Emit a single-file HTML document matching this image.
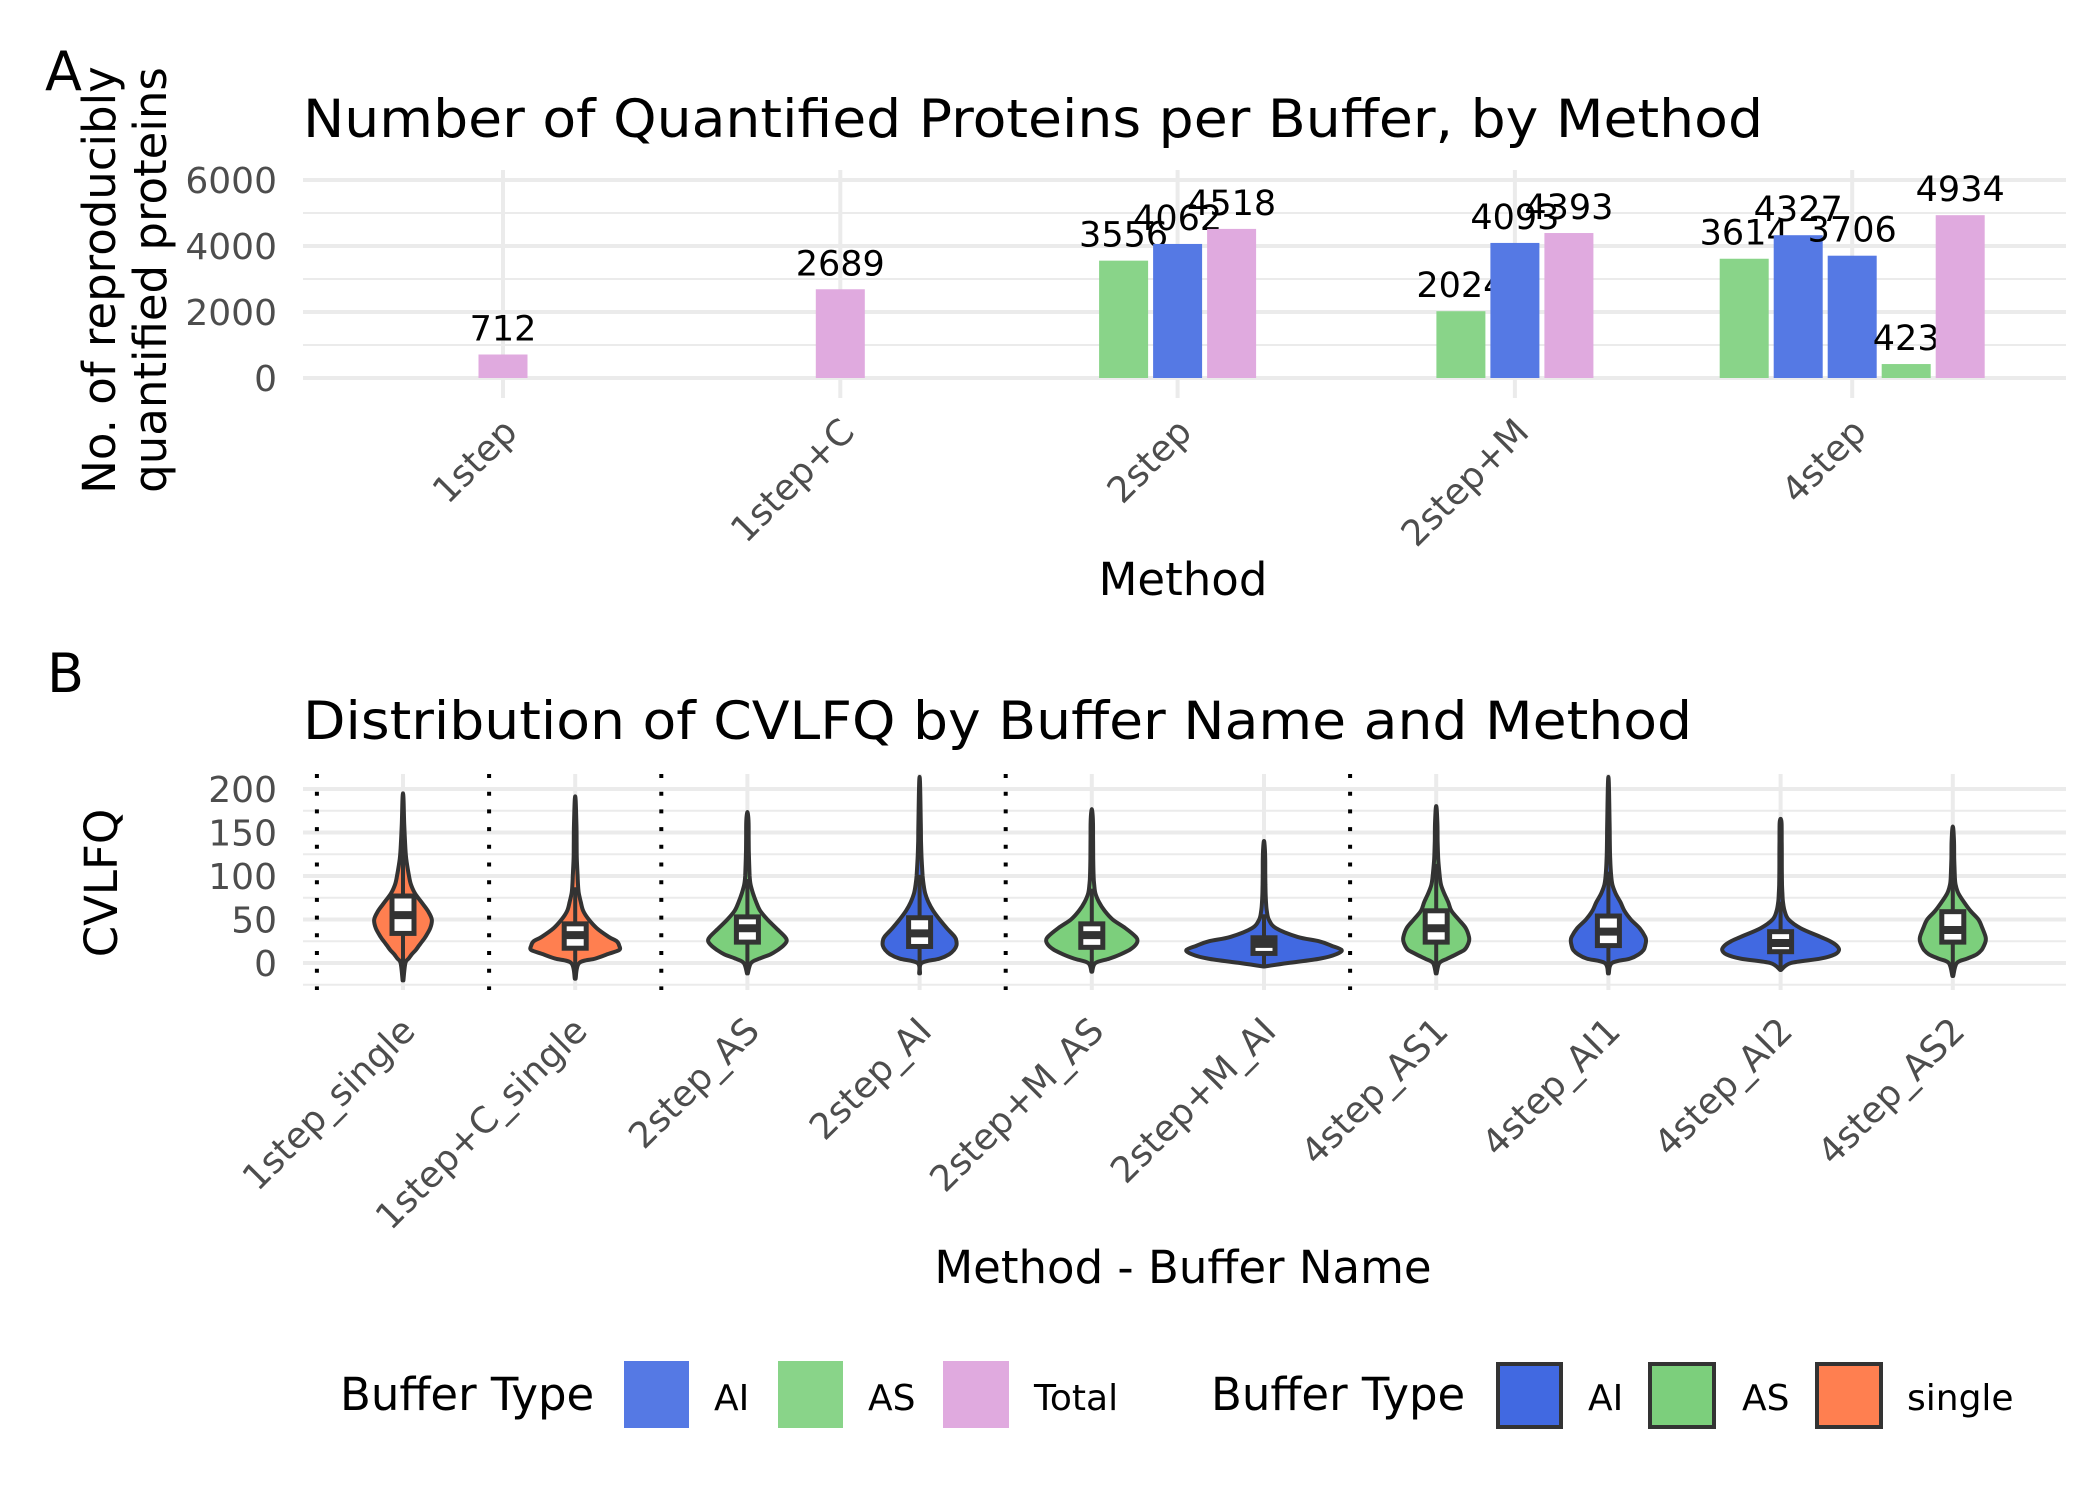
<!DOCTYPE html>
<html><head><meta charset="utf-8"><style>
html,body{margin:0;padding:0;background:#fff;}
svg{display:block;font-family:"DejaVu Sans","Liberation Sans",sans-serif;}
</style></head><body>
<svg id="fig" width="2100" height="1499" viewBox="0 0 2100 1499" xmlns="http://www.w3.org/2000/svg">
<rect width="2100" height="1499" fill="#fff"/>
<text x="45" y="90" font-size="54">A</text>
<text x="303" y="137" font-size="53" textLength="1460" lengthAdjust="spacingAndGlyphs">Number of Quantified Proteins per Buffer, by Method</text>
<g font-size="45" text-anchor="middle">
<text transform="translate(115,280) rotate(-90)">No. of reproducibly</text>
<text transform="translate(166,280) rotate(-90)">quantified proteins</text>
</g>
<g id="gA"></g>
<text x="1183" y="595" font-size="45" text-anchor="middle">Method</text>

<text x="47" y="692" font-size="54">B</text>
<text x="303" y="739" font-size="53" textLength="1389" lengthAdjust="spacingAndGlyphs">Distribution of CVLFQ by Buffer Name and Method</text>
<text transform="translate(117,883) rotate(-90)" font-size="45" text-anchor="middle">CVLFQ</text>
<g id="gB"></g>
<text x="1183" y="1283" font-size="45" text-anchor="middle">Method - Buffer Name</text>

<g font-size="36">
<text x="340" y="1410" font-size="45">Buffer Type</text>
<rect x="624" y="1361" width="65" height="67" fill="#5579e4"/>
<text x="714" y="1410">AI</text>
<rect x="778" y="1361" width="65" height="67" fill="#89d489"/>
<text x="868" y="1410">AS</text>
<rect x="943" y="1361" width="66" height="67" fill="#e0aadf"/>
<text x="1034" y="1410">Total</text>
</g>
<g font-size="36">
<text x="1211" y="1410" font-size="45">Buffer Type</text>
<rect x="1498" y="1364" width="63" height="63" fill="#4169e1" stroke="#333" stroke-width="4"/>
<text x="1588" y="1410">AI</text>
<rect x="1650" y="1364" width="64" height="63" fill="#7ccf7c" stroke="#333" stroke-width="4"/>
<text x="1742" y="1410">AS</text>
<rect x="1817" y="1364" width="64" height="63" fill="#ff7f50" stroke="#333" stroke-width="4"/>
<text x="1907" y="1410">single</text>
</g>
</svg>
<script>
// ---------- Panel A data ----------
const methods = ["1step","1step+C","2step","2step+M","4step"];
const barMethod = ["1step","1step+C","2step","2step","2step","2step+M","2step+M","2step+M","4step","4step","4step","4step","4step"];
const barType   = ["Total","Total","AS","AI","Total","AS","AI","Total","AS","AI","AI","AS","Total"];
const barValue  = [712,2689,3556,4062,4518,2024,4093,4393,3614,4327,3706,423,4934];
const yTicksA = [0,2000,4000,6000];
const yMinorA = [1000,3000,5000];

// ---------- Panel B data ----------
const violinNames = ["1step_single","1step+C_single","2step_AS","2step_AI","2step+M_AS","2step+M_AI","4step_AS1","4step_AI1","4step_AI2","4step_AS2"];
const violinType = ["single","single","AS","AI","AS","AI","AS","AI","AI","AS"];
const separatorsAfter = [-1,0,1,3,5];
const vMin = [-20,-18,-12,-12,-10,-4,-12,-12,-8,-15];
const vMax = [191,188,172,208,175,138,178,208,165,155];
const q1 = [34,17,24,19,18,11,24,20,13,24];
const med = [55,32,40,34,32,22,40,36,23,38];
const q3 = [77,45,53,52,45,29,60,54,36,59];
// density profiles (relative half-width, 0..1) at the given CVLFQ levels
const densLevels = [0,5,10,15,20,25,30,40,50,60,70,80,90,100,120,140,160];
const densities = [
 [0.03,0.07,0.11,0.16,0.2,0.24,0.28,0.34,0.36,0.31,0.23,0.15,0.1,0.075,0.04,0.025,0.015],
 [0.05,0.25,0.4,0.55,0.55,0.52,0.42,0.27,0.17,0.1,0.07,0.045,0.035,0.03,0.02,0.018,0.015],
 [0.045,0.15,0.29,0.38,0.45,0.49,0.47,0.36,0.25,0.16,0.11,0.07,0.04,0.028,0.02,0.016,0.015],
 [0.025,0.25,0.37,0.43,0.46,0.46,0.44,0.34,0.25,0.17,0.11,0.07,0.05,0.038,0.025,0.018,0.015],
 [0.045,0.22,0.36,0.47,0.54,0.57,0.55,0.42,0.26,0.16,0.09,0.045,0.03,0.022,0.018,0.016,0.015],
 [0.3,0.7,0.9,0.97,0.84,0.69,0.42,0.15,0.06,0.035,0.025,0.02,0.018,0.016,0.015,0.012,0.01],
 [0.04,0.14,0.25,0.35,0.39,0.41,0.41,0.37,0.28,0.19,0.15,0.1,0.06,0.044,0.025,0.018,0.015],
 [0.045,0.27,0.38,0.44,0.46,0.47,0.46,0.39,0.28,0.2,0.15,0.09,0.05,0.035,0.022,0.018,0.015],
 [0.13,0.5,0.68,0.73,0.7,0.62,0.5,0.25,0.1,0.05,0.03,0.022,0.018,0.016,0.015,0.014,0.012],
 [0.05,0.18,0.3,0.36,0.39,0.41,0.41,0.37,0.32,0.22,0.14,0.07,0.035,0.025,0.018,0.015,0.012]
];
const yTicksB = [0,50,100,150,200];
const yMinorB = [-25,25,75,125,175];

const NS = "http://www.w3.org/2000/svg";
function mk(tag, attrs, parent){const e=document.createElementNS(NS,tag);for(const k in attrs)e.setAttribute(k,attrs[k]);parent.appendChild(e);return e;}
const barColor = {AI:"#5579e4",AS:"#89d489",Total:"#e0aadf"};
const vColor = {AI:"#4169e1",AS:"#7ccf7c",single:"#ff7f50"};

// ---------- Panel A ----------
(function(){
 const g=document.getElementById("gA");
 const L=303,R=2066,T=170,B=398, step=337.3, slot=54, bw=49;
 const xA=i=>503+i*step;
 const yA=v=>378-v*0.033;
 yMinorA.forEach(v=>{const l=mk("line",{x1:L,x2:R,y1:yA(v),y2:yA(v),stroke:"#ebebeb","stroke-width":2},g);
  
  });
 yTicksA.forEach(v=>{const l=mk("line",{x1:L,x2:R,y1:yA(v),y2:yA(v),stroke:"#ebebeb","stroke-width":4},g);
  
  
  const t=mk("text",{x:277,y:yA(v)+13,"font-size":36,fill:"#4d4d4d","text-anchor":"end"},g);t.textContent=v;
  
  });
 methods.forEach((m,i)=>{const l=mk("line",{x1:xA(i),x2:xA(i),y1:T,y2:B,stroke:"#ebebeb","stroke-width":4},g);
  
  
  const t=mk("text",{transform:`translate(${xA(i)+16},434) rotate(-45)`,"font-size":36,fill:"#4d4d4d","text-anchor":"end"},g);t.textContent=m;
  
  });
 methods.forEach((m,i)=>{
  const idx=[];barMethod.forEach((bm,j)=>{if(bm===m)idx.push(j);});
  idx.forEach((j,k)=>{
   const cx=xA(i)+(k-(idx.length-1)/2)*slot;
   const r=mk("rect",{x:cx-bw/2,y:yA(barValue[j]),width:bw,height:yA(0)-yA(barValue[j]),fill:barColor[barType[j]]},g);
   
   
   const t=mk("text",{x:cx,y:yA(barValue[j])-14,"font-size":35,"text-anchor":"middle",fill:"#000"},g);t.textContent=barValue[j];
   
   
  });
 });
})();

// ---------- Panel B ----------
(function(){
 const g=document.getElementById("gB");
 const L=303,R=2066,T=774,B=990, step=172.2, maxW=80;
 const xB=i=>403+i*step;
 const yB=v=>963-v*0.87;
 yMinorB.forEach(v=>{const l=mk("line",{x1:L,x2:R,y1:yB(v),y2:yB(v),stroke:"#ebebeb","stroke-width":2},g);
  
  });
 yTicksB.forEach(v=>{const l=mk("line",{x1:L,x2:R,y1:yB(v),y2:yB(v),stroke:"#ebebeb","stroke-width":4},g);
  
  
  const t=mk("text",{x:277,y:yB(v)+13,"font-size":36,fill:"#4d4d4d","text-anchor":"end"},g);t.textContent=v;
  
  });
 violinNames.forEach((n,i)=>{const l=mk("line",{x1:xB(i),x2:xB(i),y1:T,y2:B,stroke:"#ebebeb","stroke-width":4},g);
  
  
  const t=mk("text",{transform:`translate(${xB(i)+14},1033) rotate(-45)`,"font-size":36,fill:"#4d4d4d","text-anchor":"end"},g);t.textContent=n;
  
  });
 separatorsAfter.forEach(s=>{const x=xB(s+0.5);
  const l=mk("line",{x1:x,x2:x,y1:T,y2:B,stroke:"#000","stroke-width":4,"stroke-dasharray":"4 13.7"},g);
  
  });
 violinNames.forEach((n,i)=>{
  const cx=xB(i);
  const lv=[vMin[i]].concat(densLevels.filter(v=>v>vMin[i]&&v<vMax[i]),[vMax[i]]);
  const wd=lv.map((v,k)=>{
   if(k===0||k===lv.length-1) return 0.005;
   const j=densLevels.indexOf(v);return densities[i][j];});
  const pts=lv.map((v,k)=>[wd[k]*maxW,yB(v)]);
  const all=pts.map(p=>[cx+p[0],p[1]]).concat(pts.slice().reverse().map(p=>[cx-p[0],p[1]]));
  let d="M"+all[0][0].toFixed(1)+","+all[0][1].toFixed(1);
  for(let k=0;k<all.length-1;k++){
   const p0=all[Math.max(k-1,0)],p1=all[k],p2=all[k+1],p3=all[Math.min(k+2,all.length-1)];
   const c1=[p1[0]+(p2[0]-p0[0])/6,p1[1]+(p2[1]-p0[1])/6];
   const c2=[p2[0]-(p3[0]-p1[0])/6,p2[1]-(p3[1]-p1[1])/6];
   d+=` C${c1[0].toFixed(1)},${c1[1].toFixed(1)} ${c2[0].toFixed(1)},${c2[1].toFixed(1)} ${p2[0].toFixed(1)},${p2[1].toFixed(1)}`;
  }
  d+="Z";
  const p=mk("path",{d:d,fill:vColor[violinType[i]],stroke:"#333","stroke-width":4,"stroke-linejoin":"round"},g);
  
  
  const iqr=q3[i]-q1[i];
  const wl=mk("line",{x1:cx,x2:cx,y1:yB(Math.max(vMin[i],q1[i]-1.5*iqr)),y2:yB(Math.min(vMax[i],q3[i]+1.5*iqr)),stroke:"#333","stroke-width":4},g);
  
  
  const bx=mk("rect",{x:cx-11,y:yB(q3[i]),width:22,height:yB(q1[i])-yB(q3[i]),fill:"#fff",stroke:"#333","stroke-width":5},g);
  
  
  const ml=mk("line",{x1:cx-11,x2:cx+11,y1:yB(med[i]),y2:yB(med[i]),stroke:"#333","stroke-width":8},g);
  
  
 });
})();
</script>
</body></html>
